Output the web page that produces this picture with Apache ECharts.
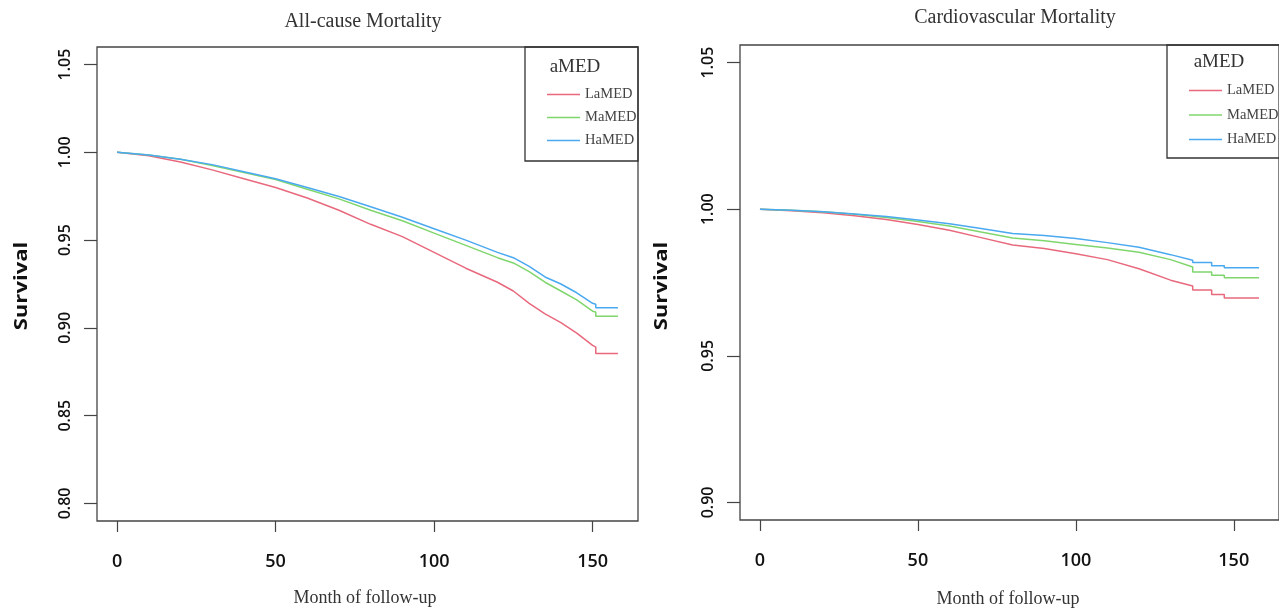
<!DOCTYPE html>
<html>
<head>
<meta charset="utf-8">
<title>aMED survival</title>
<script src="https://cdn.jsdelivr.net/npm/echarts@6/dist/echarts.min.js"></script>
<style>
  html, body { margin: 0; padding: 0; background: #fff; }
  #chart { width: 1279px; height: 609px; }
</style>
</head>
<body>
<div id="chart"></div>
<script>
// group names
const groups = ['LaMED', 'MaMED', 'HaMED'];
const colors = ['#E8697D', '#7FD66D', '#4AA9F0'];

// All-cause mortality
const allMonths = [0, 10, 20, 30, 40, 50, 60, 70, 80, 90, 100, 110, 120, 125, 130, 135, 140, 145, 150, 151, 151, 158];
const allLa = [1.000, 0.998, 0.9945, 0.990, 0.985, 0.980, 0.974, 0.967, 0.959, 0.952, 0.943, 0.934, 0.926, 0.921, 0.914, 0.908, 0.903, 0.897, 0.890, 0.889, 0.8854, 0.8854];
const allMa = [1.000, 0.9985, 0.996, 0.9925, 0.9885, 0.9845, 0.979, 0.9735, 0.967, 0.961, 0.954, 0.947, 0.940, 0.937, 0.932, 0.926, 0.921, 0.916, 0.9095, 0.909, 0.9066, 0.9066];
const allHa = [1.000, 0.9985, 0.996, 0.993, 0.989, 0.985, 0.980, 0.9748, 0.969, 0.963, 0.9565, 0.950, 0.943, 0.940, 0.935, 0.929, 0.925, 0.920, 0.914, 0.9135, 0.9115, 0.9115];

// Cardiovascular mortality
const cvdMonths = [0, 10, 20, 30, 40, 50, 60, 70, 80, 90, 100, 110, 120, 130, 137, 137, 143, 143, 147, 147, 158];
const cvdLa = [1.000, 0.9995, 0.9988, 0.9978, 0.9965, 0.9948, 0.9928, 0.9903, 0.9878, 0.9866, 0.9848, 0.9828, 0.9797, 0.9758, 0.9738, 0.9724, 0.9724, 0.9709, 0.9709, 0.9697, 0.9697];
const cvdMa = [1.000, 0.9996, 0.9991, 0.9983, 0.9972, 0.9958, 0.9943, 0.9922, 0.9902, 0.9892, 0.9880, 0.9868, 0.9853, 0.9828, 0.9803, 0.9786, 0.9786, 0.9775, 0.9775, 0.9766, 0.9766];
const cvdHa = [1.000, 0.9996, 0.9991, 0.9984, 0.9975, 0.9963, 0.9950, 0.9934, 0.9917, 0.9910, 0.9900, 0.9886, 0.9870, 0.9845, 0.9826, 0.9818, 0.9818, 0.9807, 0.9807, 0.9800, 0.9800];

// tick labels
const xTicks = [0, 50, 100, 150];
const allYTicks = [0.80, 0.85, 0.90, 0.95, 1.00, 1.05];
const cvdYTicks = [0.90, 0.95, 1.00, 1.05];

const serif = '"Liberation Serif", "DejaVu Serif", serif';
const sans = '"Open Sans", "Noto Sans", sans-serif';

function pairs(xs, ys) {
  return xs.map((x, i) => [x, ys[i]]);
}

function xAxisFor(idx) {
  return {
    type: 'value', gridIndex: idx, min: -6.32, max: 164.32,
    axisLine: { show: false, onZero: false },
    splitLine: { show: false },
    axisTick: { show: true, length: 11, customValues: xTicks, lineStyle: { color: '#444', width: 1.2 } },
    axisLabel: { customValues: xTicks, margin: 32, fontFamily: sans, fontWeight: 600, fontSize: 18, color: '#111' }
  };
}

function yAxisFor(idx, min, max, ticks) {
  return {
    type: 'value', gridIndex: idx, min: min, max: max,
    axisLine: { show: false, onZero: false },
    splitLine: { show: false },
    axisTick: { show: true, length: 13, customValues: ticks, lineStyle: { color: '#444', width: 1.2 } },
    axisLabel: {
      customValues: ticks, rotate: 90, margin: 24,
      fontFamily: sans, fontWeight: 600, fontSize: 16, color: '#111',
      formatter: v => v.toFixed(2)
    }
  };
}

function seriesFor(idx, xs, list) {
  return list.map((ys, i) => ({
    name: groups[i], type: 'line',
    xAxisIndex: idx, yAxisIndex: idx,
    data: pairs(xs, ys),
    showSymbol: false,
    lineStyle: { color: colors[i], width: 1.5 },
    itemStyle: { color: colors[i] }
  }));
}

function legendFor(left, top, gap) {
  return {
    data: groups, orient: 'vertical', left: left, top: top,
    padding: 0, icon: 'rect', itemWidth: 33, itemHeight: 1.5, itemGap: gap,
    selectedMode: false,
    textStyle: { fontFamily: serif, fontSize: 14.5, color: '#444' }
  };
}

function text(x, y, str, font, size, extra) {
  return {
    type: 'text', x: x, y: y,
    rotation: extra && extra.rotation || 0,
    scaleX: extra && extra.scaleX || 1,
    style: {
      text: str, fontFamily: font, fontSize: size,
      fontWeight: extra && extra.bold ? 700 : 400,
      fill: extra && extra.fill || '#333',
      textAlign: 'center', textVerticalAlign: 'middle'
    }
  };
}

const chart = echarts.init(document.getElementById('chart'));

chart.setOption({
  animation: false,
  backgroundColor: '#fff',
  grid: [
    { left: 97, top: 47, width: 541, height: 474, show: true, borderColor: '#444', borderWidth: 1.3, backgroundColor: 'transparent' },
    { left: 740, top: 45, width: 540, height: 475, show: true, borderColor: '#444', borderWidth: 1.3, backgroundColor: 'transparent' }
  ],
  xAxis: [xAxisFor(0), xAxisFor(1)],
  yAxis: [yAxisFor(0, 0.79, 1.06, allYTicks), yAxisFor(1, 0.894, 1.056, cvdYTicks)],
  legend: [legendFor(547, 87, 8), legendFor(1189, 83, 9.5)],
  series: [].concat(
    seriesFor(0, allMonths, [allLa, allMa, allHa]),
    seriesFor(1, cvdMonths, [cvdLa, cvdMa, cvdHa])
  ),
  graphic: [
    { type: 'rect', shape: { x: 525, y: 47, width: 113, height: 114 }, style: { fill: 'none', stroke: '#333', lineWidth: 1.3 } },
    { type: 'rect', shape: { x: 1167, y: 45, width: 113, height: 113 }, style: { fill: 'none', stroke: '#333', lineWidth: 1.3 } },
    text(575, 67, 'aMED', serif, 19),
    text(1219, 62, 'aMED', serif, 19),
    text(363, 22, 'All-cause Mortality', serif, 20),
    text(1015, 18, 'Cardiovascular Mortality', serif, 20),
    text(365, 598, 'Month of follow-up', serif, 18),
    text(1008, 599, 'Month of follow-up', serif, 18),
    text(22, 286, 'Survival', sans, 17, { rotation: Math.PI / 2, scaleX: 1.3, bold: true, fill: '#111' }),
    text(662, 286, 'Survival', sans, 17, { rotation: Math.PI / 2, scaleX: 1.3, bold: true, fill: '#111' })
  ]
});
</script>
</body>
</html>
